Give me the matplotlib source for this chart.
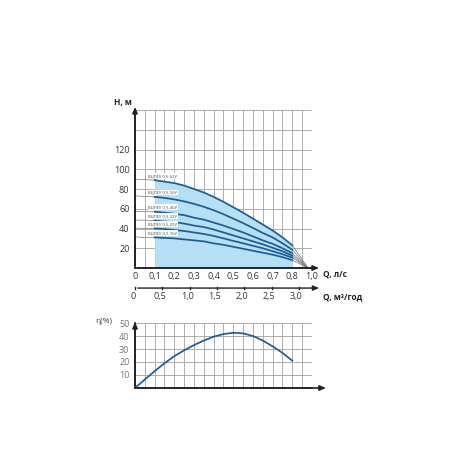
import numpy as np
import matplotlib
matplotlib.use("Agg")
from matplotlib import pyplot as plt

plt.rcParams['font.family'] = ['Open Sans', 'DejaVu Sans']

# flow positions (scale of the chart, l/s)
q = [0.0, 0.05, 0.1, 0.15, 0.2, 0.25, 0.3, 0.35, 0.4, 0.45, 0.5, 0.55, 0.6, 0.65, 0.7, 0.75, 0.8]

# head curves, m
h63 = [90, 89.5, 89, 87.5, 86, 83.5, 80, 76.5, 72, 67, 61.5, 56, 50, 44, 38, 31, 23]
h50 = [73, 72.5, 72, 71, 69.5, 67.5, 65, 62, 58.5, 54.5, 50, 45.5, 40.5, 35.5, 31, 25, 18.5]
h40 = [57.5, 57, 57, 56, 55, 53.5, 51, 49, 46, 43, 39.5, 36, 32, 28, 24.5, 20, 15]
h32 = [48.5, 48.5, 48, 47, 46.5, 45, 43, 41.5, 39, 36, 33, 30, 27, 24, 20.5, 17, 12.5]
h25 = [40.5, 40, 40, 39.5, 38.5, 37.5, 36, 34.5, 32.5, 30, 27.5, 25, 22.5, 20, 17, 14, 10.5]
h16 = [31.5, 31, 31, 30.5, 30, 29, 28, 27, 25, 23.5, 21.5, 19.5, 17.5, 15.5, 13.5, 11, 8]
curves = [h63, h50, h40, h32, h25, h16]
names = ["ВЦПЕУ 0,5-63У", "ВЦПЕУ 0,5-50У", "ВЦПЕУ 0,5-40У",
         "ВЦПЕУ 0,5-32У", "ВЦПЕУ 0,5-25У", "ВЦПЕУ 0,5-16У"]

# efficiency, %
eff = [0, 6.5, 13, 19, 24.5, 29, 33, 36.5, 39.5, 41.5, 42.5, 42, 40, 36.5, 32, 27, 21]

q_ticks = [0, 0.1, 0.2, 0.3, 0.4, 0.5, 0.6, 0.7, 0.8, 0.9]
q_labels = ["0", "0,1", "0,2", "0,3", "0,4", "0,5", "0,6", "0,7", "0,8", "1,0"]
m3h_ticks = [0, 0.5, 1.0, 1.5, 2.0, 2.5, 3.0]
m3h_labels = ["0", "0,5", "1,0", "1,5", "2,0", "2,5", "3,0"]
h_ticks = [20, 40, 60, 80, 100, 120]
eff_ticks = [10, 20, 30, 40, 50]

q_end = 0.88
blue = "#1f5c92"
fill = "#b6def5"
gridc = "#a8a8a8"
txt = "#333333"

fig = plt.figure(figsize=(4.5, 4.5), dpi=100)
ax = fig.add_axes([0.3, 0.4044, 0.3933, 0.3511])
ax2 = fig.add_axes([0.3, 0.1378, 0.3933, 0.1444])

qa = np.array(q)
for a, ytop, ystep in [(ax, 160, 20), (ax2, 50, 10)]:
    a.set_xlim(0, 0.9)
    a.set_ylim(0, ytop)
    for x in np.arange(0, 0.9001, 0.05):
        a.axvline(x, color=gridc, lw=0.65, zorder=1)
    for y in np.arange(0, ytop + 0.01, ystep):
        a.axhline(y, color=gridc, lw=0.65, zorder=1)
    for s in ["top", "right"]:
        a.spines[s].set_visible(False)
    for s in ["left", "bottom"]:
        a.spines[s].set_color("#222222")
        a.spines[s].set_linewidth(1.2)
        a.spines[s].set_zorder(5)
    a.tick_params(length=0)

# main chart
sel = qa >= 0.1
ax.fill_between(qa[sel], 0, np.array(h63)[sel], color=fill, zorder=2, lw=0)
for h, name in zip(curves, names):
    h = np.array(h)
    ax.plot(qa[qa <= 0.1], h[qa <= 0.1], color="#777777", lw=0.5, zorder=3)
    ax.plot(qa[sel], h[sel], color=blue, lw=1.25, zorder=4)
    ax.plot([q[-1], q_end], [h[-1], 0], color="#777777", lw=0.5, zorder=3)
    ax.text(0.068, h[2] + 4.5, name, fontsize=3, color="#444444", va="center", zorder=6,
            bbox=dict(facecolor="white", edgecolor="none", pad=0.6))

ax.set_yticks(h_ticks)
ax.set_yticklabels([str(v) for v in h_ticks], fontsize=6.5, color=txt)
ax.set_xticks(q_ticks)
ax.set_xticklabels(q_labels, fontsize=6.5, color=txt)
ax.tick_params(axis="x", pad=3)
ax.tick_params(axis="y", pad=4)

arrow = dict(arrowstyle="-|>,head_length=0.35,head_width=0.15", color="#222222", lw=1.2)
ax.annotate("", xy=(0, 166), xytext=(0, 0), arrowprops=arrow, annotation_clip=False)
ax.annotate("", xy=(0.95, 0), xytext=(0, 0), arrowprops=arrow, annotation_clip=False)
ax.text(-0.015, 168, "H, м", fontsize=6, fontweight="bold", color="#222222", ha="right", va="center")
ax.text(0.955, -6, "Q, л/с", fontsize=6, fontweight="bold", color="#222222", ha="left", va="center",
        clip_on=False)

# second flow scale m3/h
y2 = -20.3
ax.annotate("", xy=(0.95, y2), xytext=(0, y2),
            arrowprops=dict(arrowstyle="-|>,head_length=0.35,head_width=0.15", color="#222222", lw=1.0),
            annotation_clip=False)
for v, lab in zip(m3h_ticks, m3h_labels):
    x = v / 3.6
    ax.plot([x, x], [y2 - 1.2, y2 + 1.2], color="#222222", lw=1.0, clip_on=False)
    ax.text(x - 0.012, y2 - 9, lab, fontsize=6.5, color=txt, ha="center", va="center")
ax.text(0.955, y2 - 9, "Q, м³/год", fontsize=6, fontweight="bold", color="#222222",
        ha="left", va="center")

# efficiency chart
ax2.plot(q, eff, color=blue, lw=1.25, zorder=4)
ax2.set_yticks(eff_ticks)
ax2.set_yticklabels([str(v) for v in eff_ticks], fontsize=6.5, color="#777777")
ax2.set_xticks([])
ax2.tick_params(axis="y", pad=4)
ax2.annotate("", xy=(0, 53), xytext=(0, 0), arrowprops=arrow, annotation_clip=False)
ax2.annotate("", xy=(0.985, 0), xytext=(0, 0), arrowprops=arrow, annotation_clip=False)
ax2.text(-0.2, 51, "η(%)", fontsize=6, color="#444444", ha="left", va="center")

fig.savefig("out.png", dpi=100)
